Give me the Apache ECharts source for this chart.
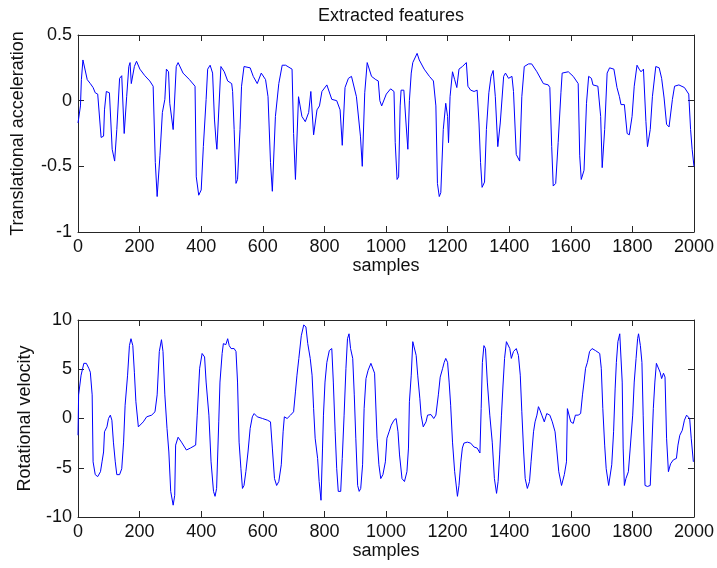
<!DOCTYPE html>
<html>
<head>
<meta charset="utf-8">
<script src="https://cdn.jsdelivr.net/npm/echarts@6/dist/echarts.min.js"></script>
<style>
html,body{margin:0;padding:0;background:#fff;}
#chart{width:717px;height:568px;}
</style>
</head>
<body>
<div id="chart"></div>
<script>
// Top panel: translational acceleration
const accelSamples = [0,8,11,16,21,30,40,49,56,64,75,83,86,92,102,107,111,119,126,135,142,150,158,165,169,173,178,183,190,201,217,233,244,251,257,261,266,274,282,287,294,298,309,319,325,341,362,380,384,392,400,407,416,421,429,437,443,448,451,464,475,486,491,499,502,507,513,518,526,531,539,545,559,569,582,595,609,617,625,631,636,641,652,663,674,695,700,706,716,727,738,749,756,765,776,784,792,808,824,840,851,858,867,878,888,904,917,923,931,939,953,967,975,980,986,1001,1015,1026,1030,1036,1041,1046,1049,1058,1065,1071,1076,1082,1087,1101,1108,1124,1141,1154,1162,1167,1173,1178,1186,1194,1200,1203,1208,1216,1223,1230,1237,1248,1261,1266,1275,1286,1296,1302,1307,1312,1320,1326,1334,1341,1348,1355,1363,1371,1382,1388,1398,1409,1414,1423,1434,1441,1449,1463,1473,1490,1511,1527,1532,1538,1543,1551,1559,1568,1572,1592,1608,1624,1629,1634,1643,1651,1658,1667,1672,1688,1697,1702,1710,1718,1726,1740,1750,1758,1763,1774,1783,1790,1799,1806,1815,1822,1828,1836,1844,1849,1858,1865,1876,1887,1895,1903,1911,1919,1930,1937,1951,1969,1983,1989,1994,2000];
const accelValues = [-0.17,-0.04,0.16,0.31,0.30,0.16,0.13,0.10,0.06,0.05,-0.28,-0.27,-0.07,0.07,0.06,0.05,-0.37,-0.46,-0.22,0.17,0.19,-0.25,0.03,0.26,0.29,0.13,0.12,0.26,0.30,0.24,0.19,0.15,0.11,-0.47,-0.73,-0.74,-0.42,-0.09,0.01,0.24,0.22,-0.02,-0.22,0.26,0.29,0.21,0.16,0.11,-0.58,-0.72,-0.68,-0.35,0.01,0.24,0.27,0.21,-0.14,-0.30,-0.37,0.26,0.22,0.15,0.16,0.13,0.07,-0.22,-0.63,-0.60,-0.22,0.11,0.26,0.27,0.25,0.185,0.13,0.21,0.16,0.03,-0.47,-0.69,-0.68,-0.12,0.13,0.27,0.27,0.24,-0.25,-0.60,0.03,-0.12,-0.16,-0.09,0.07,-0.26,-0.07,-0.04,0.07,0.12,0.01,0.00,-0.07,-0.34,0.10,0.17,0.185,0.03,-0.27,-0.50,0.06,0.29,0.185,0.16,0.15,0.0,-0.04,0.05,0.09,0.07,-0.32,-0.60,-0.58,-0.04,0.08,0.08,-0.17,-0.37,0.0,0.21,0.29,0.36,0.31,0.24,0.185,0.15,-0.04,-0.63,-0.73,-0.70,-0.22,-0.02,-0.12,-0.32,0.03,0.22,0.16,0.10,0.24,0.26,0.29,0.11,0.08,0.07,0.08,-0.17,-0.47,-0.66,-0.62,-0.22,0.06,0.185,0.23,0.03,-0.35,-0.17,0.185,0.21,0.17,0.185,0.07,-0.41,-0.46,0.03,0.26,0.28,0.28,0.22,0.13,0.12,0.10,-0.35,-0.65,-0.63,-0.32,0.06,0.21,0.22,0.185,0.13,-0.42,-0.60,-0.53,-0.02,0.185,0.17,0.12,0.11,-0.12,-0.51,-0.22,0.21,0.25,0.24,0.10,0.03,-0.03,-0.03,-0.25,-0.26,-0.12,0.11,0.27,0.24,0.22,0.24,-0.16,-0.35,-0.22,0.03,0.26,0.25,0.17,0.02,-0.18,-0.20,0.01,0.11,0.12,0.10,0.05,-0.22,-0.37,-0.50];

// Bottom panel: rotational velocity
const rotSamples = [0,2,10,19,27,35,40,46,49,56,64,73,78,83,86,94,99,105,110,115,121,126,135,142,148,153,161,167,172,178,183,188,196,201,212,223,239,250,257,264,271,276,282,289,295,301,309,314,317,325,336,352,365,382,387,395,403,411,416,425,432,440,445,450,457,461,468,472,480,486,491,497,507,513,518,523,529,534,539,545,552,559,566,572,582,599,615,625,631,638,645,652,660,666,670,679,690,700,706,711,717,725,733,740,746,754,760,765,770,778,783,789,794,797,802,808,816,824,829,835,840,845,853,858,864,870,875,880,885,892,897,902,908,913,918,924,929,935,942,951,963,971,977,983,990,998,1003,1010,1017,1026,1033,1039,1044,1052,1060,1068,1073,1076,1082,1087,1092,1098,1103,1110,1114,1121,1130,1135,1146,1155,1162,1170,1176,1184,1189,1194,1200,1205,1210,1216,1223,1232,1237,1243,1248,1253,1264,1275,1286,1296,1305,1309,1313,1318,1323,1329,1337,1345,1352,1359,1364,1369,1375,1380,1385,1391,1396,1402,1407,1414,1423,1430,1436,1441,1447,1452,1459,1466,1471,1479,1484,1490,1495,1500,1506,1514,1522,1532,1540,1549,1554,1561,1570,1579,1586,1589,1595,1600,1608,1615,1624,1632,1638,1643,1648,1654,1661,1669,1680,1694,1699,1704,1710,1715,1723,1729,1733,1739,1744,1748,1753,1759,1763,1767,1770,1774,1779,1787,1793,1801,1806,1812,1817,1820,1826,1831,1835,1841,1849,1858,1863,1868,1873,1878,1884,1890,1895,1901,1906,1911,1917,1924,1933,1943,1948,1954,1962,1969,1976,1980,1986,1991,1998];
const rotValues = [-1.7,2.4,4.4,5.6,5.6,5.1,4.7,2.4,-4.4,-5.7,-5.9,-5.4,-4.4,-3.4,-1.35,-0.85,0,0.34,-0.17,-2.4,-4.4,-5.7,-5.7,-5.1,-2.4,1.35,4.4,7.4,8.1,7.4,4.7,1.7,-0.85,-0.85,-0.34,0.17,0.34,0.68,2.4,6.8,8.0,6.8,2.4,-1.0,-3.4,-7.4,-8.8,-7.8,-2.7,-1.9,-2.4,-3.2,-3.0,-2.7,0.34,5.1,6.6,6.25,3.7,0.34,-4.4,-7.4,-7.9,-7.1,-0.34,3.7,6.6,7.6,7.5,8.1,7.4,7.1,7.1,6.8,3.7,-2.4,-5.1,-7.1,-6.8,-5.4,-3.4,-1.0,0.17,0.5,0.17,0,-0.17,-0.34,-3.0,-6.1,-6.8,-6.4,-4.7,-1.35,0.17,0,0.34,0.68,2.7,4.4,6.1,8.4,9.5,9.3,7.6,6.1,4.4,1.0,-2.0,-4.05,-6.4,-8.3,-3.0,0.34,3.7,5.7,6.9,7.1,3.7,-1.35,-5.1,-7.4,-7.4,-4.05,0.34,5.1,8.1,8.6,7.1,6.1,2.4,-2.0,-6.8,-7.4,-7.1,-4.7,1.0,4.05,4.9,5.6,4.6,-2.0,-4.7,-6.1,-5.7,-4.4,-2.0,-1.35,-0.68,-0.17,0,-1.35,-3.7,-6.1,-6.4,-5.4,-3.0,1.7,4.4,7.8,7.9,6.4,4.4,2.0,0.34,-0.85,-0.34,0.34,0.4,0,0.34,2.4,4.2,5.1,5.7,6.1,5.7,3.7,1.35,-2.4,-5.4,-7.9,-6.8,-4.4,-3.0,-2.5,-2.4,-2.5,-2.9,-3.0,-3.5,1.0,5.7,7.4,7.1,3.7,0.34,-2.4,-6.1,-7.6,-6.4,-3.7,0.34,3.4,6.1,7.8,8.0,7.1,6.1,6.8,7.1,6.4,4.4,0.68,-3.4,-6.1,-7.1,-6.4,-4.4,-1.35,-0.34,0.34,1.2,0.85,0.34,-0.34,0.5,0.34,-0.34,-1.35,-3.0,-5.4,-6.8,-5.7,-4.4,1.0,0.85,-0.34,-0.5,0.34,0.34,0.5,2.4,3.7,5.1,5.7,6.8,7.1,6.9,6.6,5.1,1.0,-2.7,-5.1,-6.8,-6.9,-4.7,-1.35,3.0,5.7,7.8,8.6,8.8,3.7,-3.0,-6.8,-6.1,-5.4,-3.0,0.34,3.7,6.1,8.1,8.6,7.4,5.7,0.34,-6.8,-6.9,-6.8,-3.0,1.0,3.7,5.6,5.4,4.7,4.05,4.6,4.2,-2.0,-5.4,-4.6,-4.2,-4.05,-2.7,-1.7,-1.2,-0.17,0.34,0.5,0,-2.0,-4.4];

const xTicks = {min: 0, max: 2000, step: 200};
const accelTicks = {min: -1, max: 0.5, step: 0.5};
const rotTicks = {min: -10, max: 10, step: 5};

const titleText = 'Extracted features';
const xName = 'samples';
const accelName = 'Translational acceleration';
const rotName = 'Rotational velocity';

const pairs = (xs, ys) => xs.map((x, i) => [x, ys[i]]);

const axisColor = '#262626';
const textColor = '#111';
const font = "'Liberation Sans',Arial,sans-serif";

function xAxes(gridIndex) {
  const common = {
    type: 'value', gridIndex: gridIndex,
    min: xTicks.min, max: xTicks.max, interval: xTicks.step,
    splitLine: {show: false},
    axisLine: {show: true, onZero: false, lineStyle: {color: axisColor, width: 1}},
    axisTick: {show: true, inside: true, length: 6, lineStyle: {color: axisColor}}
  };
  return [
    Object.assign({}, common, {
      position: 'bottom',
      name: xName, nameLocation: 'middle', nameGap: 24,
      nameTextStyle: {fontFamily: font, fontSize: 18, color: textColor},
      axisLabel: {show: true, margin: 6, fontFamily: font, fontSize: 18, color: textColor,
        formatter: v => String(v)}
    }),
    Object.assign({}, common, {position: 'top', axisLabel: {show: false}})
  ];
}

function yAxes(gridIndex, t, name, gap) {
  const common = {
    type: 'value', gridIndex: gridIndex,
    min: t.min, max: t.max, interval: t.step,
    splitLine: {show: false},
    axisLine: {show: true, onZero: false, lineStyle: {color: axisColor, width: 1}},
    axisTick: {show: true, inside: true, length: 6, lineStyle: {color: axisColor}}
  };
  return [
    Object.assign({}, common, {
      position: 'left',
      name: name, nameLocation: 'middle', nameGap: gap, nameRotate: 90,
      nameTextStyle: {fontFamily: font, fontSize: 18, color: textColor},
      axisLabel: {show: true, margin: 6, fontFamily: font, fontSize: 18, color: textColor,
        formatter: v => String(v)}
    }),
    Object.assign({}, common, {position: 'right', axisLabel: {show: false}})
  ];
}

const chart = echarts.init(document.getElementById('chart'), null, {renderer: 'canvas'});
chart.setOption({
  animation: false,
  backgroundColor: '#ffffff',
  title: {
    text: titleText, left: 386, top: 2, textAlign: 'center',
    textStyle: {fontFamily: font, fontSize: 18, fontWeight: 'normal', color: textColor}
  },
  grid: [
    {left: 78, right: 19, top: 35, height: 197, containLabel: false},
    {left: 78, right: 19, top: 320, height: 197, containLabel: false}
  ],
  xAxis: [].concat(xAxes(0), xAxes(1)),
  yAxis: [].concat(yAxes(0, accelTicks, accelName, 51), yAxes(1, rotTicks, rotName, 44)),
  series: [
    {type: 'line', xAxisIndex: 0, yAxisIndex: 0, data: pairs(accelSamples, accelValues),
      showSymbol: false, symbol: 'none', lineStyle: {color: '#0000ff', width: 1}, clip: true},
    {type: 'line', xAxisIndex: 2, yAxisIndex: 2, data: pairs(rotSamples, rotValues),
      showSymbol: false, symbol: 'none', lineStyle: {color: '#0000ff', width: 1}, clip: true}
  ]
});
</script>
</body>
</html>
